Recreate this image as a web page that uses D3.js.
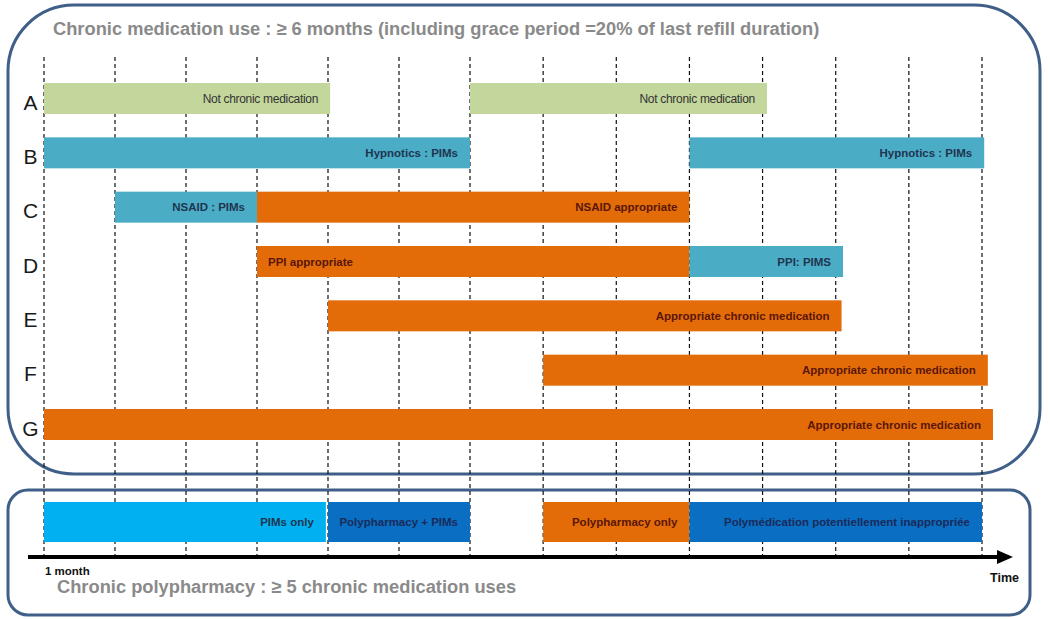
<!DOCTYPE html>
<html>
<head>
<meta charset="utf-8">
<script src="https://cdn.jsdelivr.net/npm/d3@7"></script>
<style>
  html, body { margin: 0; padding: 0; background: #fff; }
  svg { display: block; }
  text { font-family: "Liberation Sans", Arial, sans-serif; }
</style>
</head>
<body>
<svg id="chart" width="1050" height="619"></svg>
<script>
// ---- data ----
const rows = ["A", "B", "C", "D", "E", "F", "G"];
const months = d3.range(0, 14);            // grid ticks (months 0..13)
const medRow   = ["A", "A", "B", "B", "C", "C", "D", "D", "E", "F", "G"];
const medStart = [0, 6, 0, 9, 1, 3, 3, 9, 4, 7, 0];
const medEnd   = [4.03, 10.06, 6, 13.03, 3, 9, 9, 11.1, 11.08, 13.08, 13.15];
const medType  = ["notChronic", "notChronic", "pim", "pim", "pim", "appropriate", "appropriate", "pim", "appropriate", "appropriate", "appropriate"];
const medLabel = ["Not chronic medication", "Not chronic medication", "Hypnotics : PIMs", "Hypnotics : PIMs",
                  "NSAID : PIMs", "NSAID appropriate", "PPI appropriate", "PPI: PIMS",
                  "Appropriate chronic medication", "Appropriate chronic medication", "Appropriate chronic medication"];
const medAlign = ["end", "end", "end", "end", "end", "end", "start", "end", "end", "end", "end"];

const polyStart = [0, 4, 7, 9];
const polyEnd   = [3.97, 6, 9, 13];
const polyType  = ["pimsOnly", "polyPims", "polyOnly", "polyPims"];
const polyLabel = ["PIMs only", "Polypharmacy + PIMs", "Polypharmacy only", "Polymédication potentiellement inappropriée"];

const topTitle = "Chronic medication use : \u2265 6 months (including grace period =20% of last refill duration)";
const bottomTitle = "Chronic polypharmacy : \u2265 5 chronic medication uses";
const startLabel = "1 month";
const endLabel = "Time";

// ---- styles ----
const fillColor = {
  notChronic: "#c3d69b", pim: "#4bacc6", appropriate: "#e36c09",
  pimsOnly: "#00b0f0", polyPims: "#0a6fc2", polyOnly: "#e36c09"
};
const textColor = {
  notChronic: "#333333", pim: "#1f3550", appropriate: "#5a1608",
  pimsOnly: "#1f3550", polyPims: "#1a2a5a", polyOnly: "#5a1608"
};

const svg = d3.select("#chart");
const x = d3.scaleLinear().domain([0, 6, 13]).range([44, 470, 982]);
const y = d3.scalePoint().domain(rows).range([98.5, 424.5]);
const barH = 31;
const polyY0 = 502, polyH = 40;
const axisY = 557;

// frames
svg.append("rect").attr("x", 8).attr("y", 5).attr("width", 1032).attr("height", 469)
  .attr("rx", 66).attr("ry", 66)
  .attr("fill", "none").attr("stroke", "#3f5f88").attr("stroke-width", 3);
svg.append("rect").attr("x", 8).attr("y", 490).attr("width", 1022).attr("height", 125)
  .attr("rx", 20).attr("ry", 20)
  .attr("fill", "none").attr("stroke", "#3f5f88").attr("stroke-width", 3);

// grid lines
svg.append("g").selectAll("line").data(months).join("line")
  .attr("x1", d => x(d)).attr("x2", d => x(d))
  .attr("y1", 57).attr("y2", 555)
  .attr("stroke", "#111").attr("stroke-width", 1.2)
  .attr("stroke-dasharray", "4,3");

// titles
svg.append("text").attr("x", 53).attr("y", 35).text(topTitle)
  .attr("font-size", 18.3).attr("font-weight", "bold").attr("fill", "#8a8a8a");
svg.append("text").attr("x", 57).attr("y", 593).text(bottomTitle)
  .attr("font-size", 18.3).attr("font-weight", "bold").attr("fill", "#8a8a8a");

// row labels
svg.append("g").selectAll("text").data(rows).join("text")
  .attr("x", 30.5).attr("y", d => y(d) + 11)
  .attr("text-anchor", "middle")
  .attr("font-family", "'Open Sans', 'Noto Sans', sans-serif")
  .attr("font-size", 21).attr("fill", "#1a1a1a")
  .text(d => d);

// medication bars
const med = medRow.map((r, i) => ({ r, s: medStart[i], e: medEnd[i], t: medType[i], l: medLabel[i], a: medAlign[i] }));
const mg = svg.append("g");
mg.selectAll("rect").data(med).join("rect")
  .attr("x", d => x(d.s)).attr("y", d => y(d.r) - barH / 2)
  .attr("width", d => x(d.e) - x(d.s)).attr("height", barH)
  .attr("fill", d => fillColor[d.t]);
mg.selectAll("text").data(med).join("text")
  .attr("x", d => d.a === "end" ? x(d.e) - 12 : x(d.s) + 11)
  .attr("y", d => y(d.r) + 4)
  .attr("text-anchor", d => d.a)
  .attr("font-size", d => d.t === "notChronic" ? 12 : 11.5)
  .attr("font-weight", d => d.t === "notChronic" ? "normal" : "bold")
  .attr("letter-spacing", d => d.t === "notChronic" ? -0.3 : 0)
  .attr("fill", d => textColor[d.t])
  .text(d => d.l);

// polypharmacy bars
const poly = polyStart.map((s, i) => ({ s, e: polyEnd[i], t: polyType[i], l: polyLabel[i] }));
const pg = svg.append("g");
pg.selectAll("rect").data(poly).join("rect")
  .attr("x", d => x(d.s)).attr("y", polyY0)
  .attr("width", d => x(d.e) - x(d.s)).attr("height", polyH)
  .attr("fill", d => fillColor[d.t]);
pg.selectAll("text").data(poly).join("text")
  .attr("x", d => x(d.e) - 12).attr("y", polyY0 + polyH / 2 + 4)
  .attr("text-anchor", "end")
  .attr("font-size", 11.5).attr("font-weight", "bold")
  .attr("fill", d => textColor[d.t])
  .text(d => d.l);

// time axis with arrow
svg.append("line").attr("x1", 28).attr("x2", 999).attr("y1", axisY).attr("y2", axisY)
  .attr("stroke", "#000").attr("stroke-width", 4);
svg.append("path")
  .attr("d", d3.line()([[997, axisY - 7], [1013, axisY], [997, axisY + 7]]) + "Z")
  .attr("fill", "#000");

svg.append("text").attr("x", x(0) + 1).attr("y", 574.5).text(startLabel)
  .attr("font-size", 11.5).attr("font-weight", "bold").attr("fill", "#111");
svg.append("text").attr("x", 1019).attr("y", 582).text(endLabel)
  .attr("text-anchor", "end")
  .attr("font-size", 12.5).attr("font-weight", "bold").attr("fill", "#111");
</script>
</body>
</html>
